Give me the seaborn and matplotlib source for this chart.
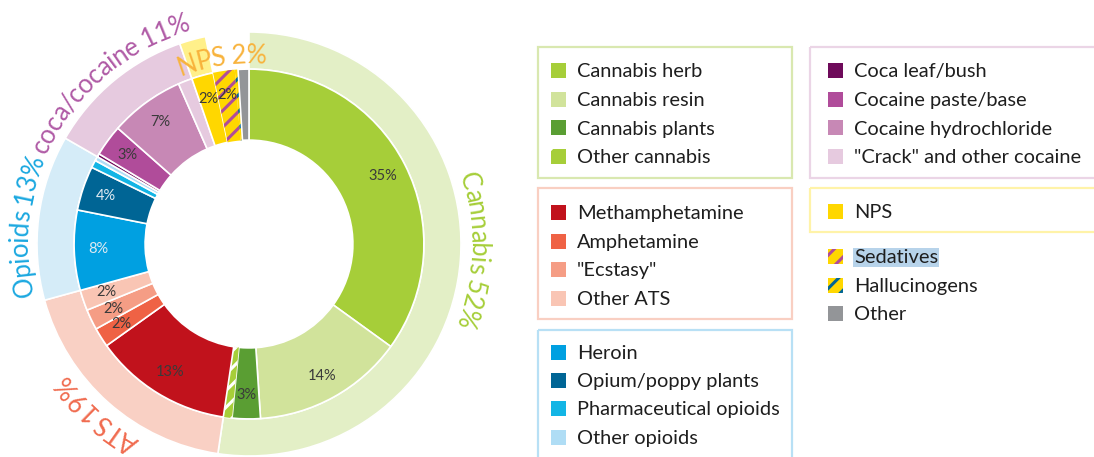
import numpy as np
import pandas as pd
import matplotlib
matplotlib.use("Agg")
import matplotlib.pyplot as plt
import seaborn as sns
from matplotlib.patches import Rectangle
from matplotlib.textpath import TextToPath
from matplotlib.font_manager import FontProperties

# ---- data (share of seizure cases, %) ----
inner_labels = ["Cannabis herb", "Cannabis resin", "Cannabis plants", "Other cannabis",
                "Methamphetamine", "Amphetamine", '"Ecstasy"', "Other ATS",
                "Heroin", "Opium/poppy plants", "Pharmaceutical opioids", "Other opioids",
                "Coca leaf/bush", "Cocaine paste/base", "Cocaine hydrochloride", '"Crack" and other cocaine',
                "NPS", "Sedatives", "Hallucinogens", "Other"]
inner_values = [35, 14, 2.6, 0.8,
                12.8, 1.8, 1.9, 1.9,
                7.4, 4.1, 0.7, 0.4,
                0.3, 2.9, 6.9, 1.3,
                2.0, 2.0, 0.3, 1.0]
inner_groups = ["Cannabis"] * 4 + ["ATS"] * 4 + ["Opioids"] * 4 + ["coca/cocaine"] * 4 + \
               ["NPS", "none", "none", "none"]
inner_pct_text = ["35%", "14%", "3%", "",
                  "13%", "2%", "2%", "2%",
                  "8%", "4%", "", "",
                  "", "3%", "7%", "",
                  "2%", "2%", "", ""]

group_names = ["Cannabis", "ATS", "Opioids", "coca/cocaine", "NPS", "none"]
group_pct = [52, 19, 13, 11, 2, None]

inner_colors = ["#A6CE39", "#D1E39B", "#5A9E33", "#A6CE39",
                "#C1121C", "#EF6245", "#F59D85", "#F9C5B4",
                "#00A0E1", "#006595", "#13B5E5", "#AFDDF5",
                "#6E0A5A", "#B04C9A", "#C788B5", "#E6CADF",
                "#FFD700", "#FFD700", "#FFD700", "#939598"]
stripe_colors = {"Other cannabis": "white", "Sedatives": "#B04C9A", "Hallucinogens": "#006595"}
outer_colors = ["#E3EFC6", "#F9D0C4", "#D5ECF8", "#E6CADF", "#FFF08A", "white"]
label_colors = ["#A6CE39", "#F06B4F", "#1BA8E0", "#B05BA6", "#F8B33C"]
label_angles = [-1.7, -131.9, 175.3, 130.7, 98.4]
label_radius = [1.09, 1.10, 1.09, 1.09, 0.90]

df = pd.DataFrame({"label": inner_labels, "value": inner_values, "group": inner_groups})
outer_values = df.groupby("group", sort=False)["value"].sum().reindex(group_names).values

sns.set_theme(style="white")
plt.rcParams["font.family"] = ["Lato", "DejaVu Sans"]
plt.rcParams["hatch.linewidth"] = 2.2

W, H = 1094, 457
R_PX = 212
CX, CY = 249, 244
fig = plt.figure(figsize=(W / 100, H / 100), dpi=100)

# legend layer in pixel coordinates
lax = fig.add_axes([0, 0, 1, 1])
lax.set_xlim(0, W)
lax.set_ylim(H, 0)
lax.axis("off")

# ---- donut ----
PW = 500
ax = fig.add_axes([0, 0, PW / W, 1])
outer_w, _ = ax.pie(outer_values, radius=1.0, colors=outer_colors, startangle=90,
                    counterclock=False,
                    wedgeprops=dict(width=0.175, edgecolor="white", linewidth=1.2))
outer_w[-1].set_visible(False)

inner_w, _ = ax.pie(inner_values, radius=0.825, colors=inner_colors, startangle=90,
                    counterclock=False,
                    wedgeprops=dict(width=0.825 - 0.49, edgecolor="white", linewidth=1.2))

for w, lab in zip(inner_w, inner_labels):
    if lab in stripe_colors:
        w.set_edgecolor(stripe_colors[lab])
        w.set_linewidth(0)
        w.set_hatch("//")

light_text = {"Heroin", "Opium/poppy plants"}
for w, lab, txt in zip(inner_w, inner_labels, inner_pct_text):
    if not txt:
        continue
    a = np.radians((w.theta1 + w.theta2) / 2)
    ax.text(0.71 * np.cos(a), 0.71 * np.sin(a), txt, ha="center", va="center",
            fontsize=10.5, color="#dfeaf2" if lab in light_text else "#3a3a3a")

ax.set_xlim(-CX / R_PX, (PW - CX) / R_PX)
ax.set_ylim(-(H - CY) / R_PX, CY / R_PX)
ax.set_aspect("auto")
ax.axis("off")

# curved group labels, read clockwise with letter tops outward
ttp = TextToPath()
pt2data = (100 / 72) / R_PX


def text_w(s, fp):
    if not s:
        return 0.0
    return ttp.get_text_width_height_descent(s + "|", fp, ismath=False)[0] - \
        ttp.get_text_width_height_descent("|", fp, ismath=False)[0]


def arc_text(s, r, mid_deg, size, color):
    fp = FontProperties(family="Lato", size=size)
    total = text_w(s, fp) * pt2data
    start = np.radians(mid_deg) + total / (2 * r)
    for i, ch in enumerate(s):
        if ch == " ":
            continue
        pre = text_w(s[:i], fp) * pt2data
        cw = text_w(ch, fp) * pt2data
        a = start - (pre + cw / 2) / r
        ax.text(r * np.cos(a), r * np.sin(a), ch, rotation=np.degrees(a) - 90,
                rotation_mode="anchor", ha="center", va="center_baseline",
                fontsize=size, color=color, family="Lato")


for name, pct, col, ang, rr in zip(group_names, group_pct, label_colors, label_angles, label_radius):
    arc_text(f"{name} {pct}%", rr, ang, 18.5, col)

# ---- legend boxes ----
boxes = [
    (538, 47, 254, 131, "#D9E8B0", 551, [70, 99, 127.5, 156], inner_labels[0:4], inner_colors[0:4]),
    (810, 47, 300, 131, "#EBD5E6", 828, [70, 99, 127.5, 156], inner_labels[12:16], inner_colors[12:16]),
    (538, 188, 254, 131, "#F9CFC2", 551, [212, 241, 269, 298], inner_labels[4:8], inner_colors[4:8]),
    (810, 188, 300, 44, "#FFF3A8", 828, [211.5], inner_labels[16:17], inner_colors[16:17]),
    (None, None, None, None, None, 828, [256, 285, 313], inner_labels[17:20], inner_colors[17:20]),
    (538, 330, 254, 140, "#B8E0F5", 551, [352, 380, 408, 437], inner_labels[8:12], inner_colors[8:12]),
]
for bx, by, bw, bh, bc, sx, rows, labs, cols in boxes:
    if bx is not None:
        lax.add_patch(Rectangle((bx, by), bw, bh, fill=False, edgecolor=bc, linewidth=1.6))
    for y, lab, c in zip(rows, labs, cols):
        if lab in stripe_colors:
            lax.add_patch(Rectangle((sx, y - 7.5), 15, 15, facecolor=c,
                                    edgecolor=stripe_colors[lab], linewidth=0,
                                    hatch="/" if lab == "Other cannabis" else "//"))
        else:
            lax.add_patch(Rectangle((sx, y - 7.5), 15, 15, facecolor=c, edgecolor="none"))
        kw = {}
        if lab == "Sedatives":
            kw["bbox"] = dict(facecolor="#B7D3EA", edgecolor="none", pad=0.6)
        lax.text(sx + 26, y, lab, ha="left", va="center_baseline", fontsize=14.4,
                 color="#1e1e1e", **kw)

fig.savefig("out.png", dpi=100)
